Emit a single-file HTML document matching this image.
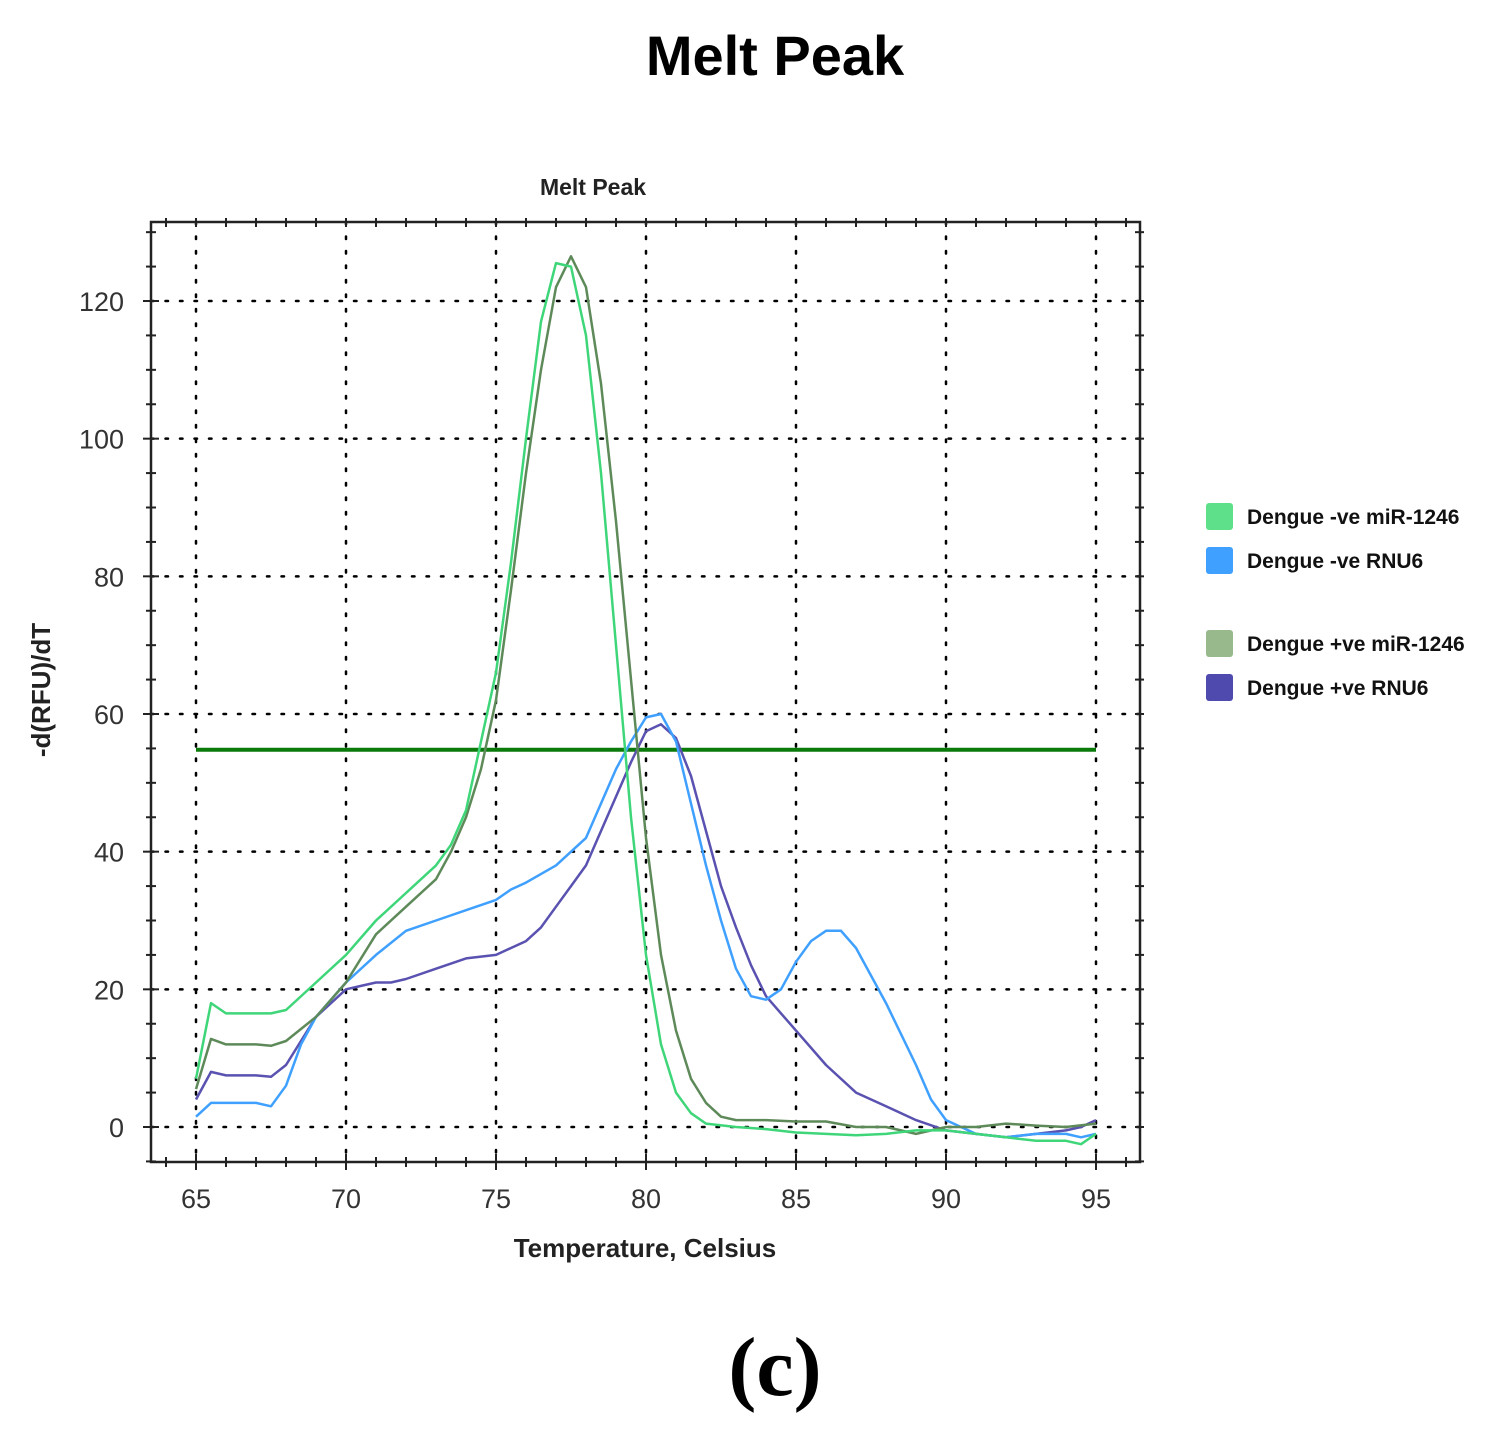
<!DOCTYPE html>
<html><head><meta charset="utf-8">
<style>
body{margin:0;background:#fff;width:1502px;height:1430px;overflow:hidden;font-family:"Liberation Sans",sans-serif}
svg{position:absolute;left:0;top:0}
</style></head>
<body>
<svg id="chart" width="1502" height="1430" viewBox="0 0 1502 1430">
  <text x="775" y="75" text-anchor="middle" font-size="56" font-weight="bold" fill="#000">Melt Peak</text>
  <text x="593" y="195" text-anchor="middle" font-size="23" font-weight="bold" fill="#222">Melt Peak</text>
  <g id="grid"></g>
  <g id="axes"></g>
  <g id="series"></g>
  <text x="645" y="1257" text-anchor="middle" font-size="26" font-weight="bold" fill="#222">Temperature, Celsius</text>
  <text transform="translate(50,690) rotate(-90)" text-anchor="middle" font-size="26" font-weight="bold" fill="#222">-d(RFU)/dT</text>
  <g>
    <g><rect x="1206" y="503" width="27" height="27" rx="3" fill="#5ee08a"/><text x="1247" y="524" font-size="21" font-weight="bold" fill="#111">Dengue -ve miR-1246</text></g>
    <g><rect x="1206" y="547" width="27" height="27" rx="3" fill="#3fa0ff"/><text x="1247" y="568" font-size="21" font-weight="bold" fill="#111">Dengue -ve RNU6</text></g>
    <g><rect x="1206" y="630" width="27" height="27" rx="3" fill="#98b98c"/><text x="1247" y="651" font-size="21" font-weight="bold" fill="#111">Dengue +ve miR-1246</text></g>
    <g><rect x="1206" y="674" width="27" height="27" rx="3" fill="#4f4aad"/><text x="1247" y="695" font-size="21" font-weight="bold" fill="#111">Dengue +ve RNU6</text></g>
  </g>
  <text x="775" y="1395" text-anchor="middle" font-size="84" font-weight="bold" font-family="Liberation Serif, serif" fill="#000">(c)</text>
</svg>
<script>
const xTicks=[65,70,75,80,85,90,95];
const yTicks=[0,20,40,60,80,100,120];
const threshold=54.8;
const negMirX=[65,65.5,66,67,67.5,68,69,70,71,72,73,73.5,74,74.5,75,75.5,76,76.5,77,77.5,78,78.5,79,79.5,80,80.5,81,81.5,82,83,84,85,86,87,88,89,90,91,92,93,94,94.5,95];
const negMirY=[7,18,16.5,16.5,16.5,17,21,25,30,34,38,41,46,56,66,82,100,117,125.5,125,115,95,70,45,25,12,5,2,0.5,0,-0.3,-0.8,-1,-1.2,-1,-0.5,-0.5,-1,-1.5,-2,-2,-2.5,-1];
const posMirX=[65,65.5,66,67,67.5,68,69,70,71,72,73,73.5,74,74.5,75,75.5,76,76.5,77,77.5,78,78.5,79,79.5,80,80.5,81,81.5,82,82.5,83,84,85,86,87,88,88.5,89,90,91,92,93,94,95];
const posMirY=[5.5,12.8,12,12,11.8,12.5,16,21,28,32,36,40,45,52,62,78,95,110,122,126.5,122,108,88,65,42,25,14,7,3.5,1.5,1,1,0.8,0.8,0,0,-0.5,-1,0,0,0.5,0.2,0,0.5];
const negRnuX=[65,65.5,66,67,67.5,68,68.5,69,70,71,72,73,74,75,75.5,76,77,77.5,78,78.5,79,79.5,80,80.5,81,81.5,82,82.5,83,83.5,84,84.5,85,85.5,86,86.5,87,88,89,89.5,90,91,92,93,94,94.5,95];
const negRnuY=[1.5,3.5,3.5,3.5,3,6,12,16,21,25,28.5,30,31.5,33,34.5,35.5,38,40,42,47,52,56,59.5,60,56,47,38,30,23,19,18.5,20,24,27,28.5,28.5,26,18,9,4,1,-1,-1.5,-1,-1,-1.5,-1];
const posRnuX=[65,65.5,66,67,67.5,68,69,70,70.5,71,71.5,72,73,74,75,76,76.5,77,77.5,78,78.5,79,79.5,80,80.5,81,81.5,82,82.5,83,83.5,84,85,86,87,88,89,90,91,92,93,94,94.5,95];
const posRnuY=[4,8,7.5,7.5,7.3,9,16,20,20.5,21,21,21.5,23,24.5,25,27,29,32,35,38,43,48,53,57.5,58.5,56.5,51,43,35,29,23.5,19,14,9,5,3,1,-0.5,-1,-1.5,-1,-0.5,0,1];

const X0=151,X1=1140,Y0=222,Y1=1162;
const sx=v=>196+(v-65)*30;
const sy=v=>1127-v*(826/120);
const NS="http://www.w3.org/2000/svg";
function mk(tag,attrs,parent){const e=document.createElementNS(NS,tag);for(const k in attrs)e.setAttribute(k,attrs[k]);parent.appendChild(e);return e;}
const grid=document.getElementById('grid'),axes=document.getElementById('axes'),ser=document.getElementById('series');
xTicks.forEach(t=>{
  const l=mk('line',{x1:sx(t),x2:sx(t),y1:Y0,y2:Y1,stroke:'#000','stroke-width':2.5,'stroke-dasharray':'2.5 12','stroke-linecap':'round'},grid);
  
  
  const tx=mk('text',{x:sx(t),y:1208,'text-anchor':'middle','font-size':27,fill:'#333'},axes);tx.textContent=t;
  
  
});
yTicks.forEach(t=>{
  const l=mk('line',{x1:X0,x2:X1,y1:sy(t),y2:sy(t),stroke:'#000','stroke-width':2.5,'stroke-dasharray':'2.5 12','stroke-linecap':'round'},grid);
  
  
  const tx=mk('text',{x:124,y:sy(t)+10,'text-anchor':'end','font-size':27,fill:'#333'},axes);tx.textContent=t;
  
  
});
const fr=mk('rect',{x:X0,y:Y0,width:X1-X0,height:Y1-Y0,fill:'none',stroke:'#222','stroke-width':2.5},axes);


for(let v=64;v<=96;v++){const x=sx(v);if(x<X0||x>X1)continue;const maj=v%5===0;
  mk('line',{x1:x,x2:x,y1:Y1-(maj?8:5),y2:Y1+(maj?8:5),stroke:'#222','stroke-width':2},axes);
  mk('line',{x1:x,x2:x,y1:Y0-4,y2:Y0+5,stroke:'#222','stroke-width':2},axes);}
for(let v=-5;v<=130;v+=5){const y=sy(v);if(y<Y0||y>Y1)continue;const maj=v%20===0;
  mk('line',{x1:X0-(maj?8:5),x2:X0+(maj?8:5),y1:y,y2:y,stroke:'#222','stroke-width':2},axes);
  mk('line',{x1:X1-5,x2:X1+4,y1:y,y2:y,stroke:'#222','stroke-width':2},axes);}
const th=mk('line',{x1:sx(65),x2:sx(95),y1:sy(threshold),y2:sy(threshold),stroke:'#0a7a0a','stroke-width':4},ser);


function draw(xs,ys,color,name){
  const d=xs.map((x,i)=>(i?'L':'M')+sx(x).toFixed(1)+' '+sy(ys[i]).toFixed(1)).join(' ');
  const p=mk('path',{d:d,fill:'none',stroke:color,'stroke-width':2.5,'stroke-linejoin':'round'},ser);
  
  
}
draw(posRnuX,posRnuY,'#5a52b0','line-pos-rnu6');
draw(negRnuX,negRnuY,'#3fa0ff','line-neg-rnu6');
draw(posMirX,posMirY,'#5e8a5a','line-pos-mir1246');
draw(negMirX,negMirY,'#3fd67a','line-neg-mir1246');
</script>
</body></html>
